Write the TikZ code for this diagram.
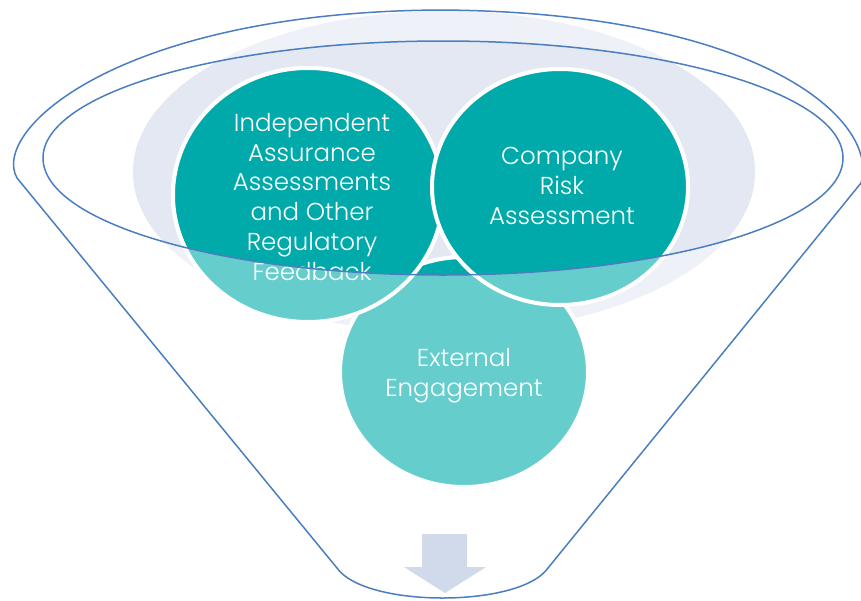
\documentclass[tikz,border=0pt]{standalone}
\usepackage{fontspec}
\setmainfont{Poppins}[UprightFont=* Light]
\usetikzlibrary{shapes.geometric}
\definecolor{dteal}{HTML}{00AAAA}
\definecolor{lteal}{HTML}{66CDCD}
\definecolor{funnel}{HTML}{4A7EBF}
\definecolor{grayout}{HTML}{EEF1F8}
\definecolor{grayin}{HTML}{E4E8F2}
\definecolor{arrowc}{HTML}{D0DAEA}
\tikzset{
  bubble/.style={draw=white, line width=4pt},
  lbl/.style={text=white, align=center, inner sep=0pt, font=\fontsize{24.5}{29.7}\selectfont},
  outline/.style={draw=funnel, line width=1.5pt},
}
\begin{document}
\begin{tikzpicture}[x=1pt,y=-1pt]
\useasboundingbox (0,0) rectangle (861,600);
% background gray ellipse
\fill[grayout] (444,172) ellipse [x radius=311, y radius=161];
\begin{scope}
  \clip (443,158) ellipse [x radius=400, y radius=117];
  \fill[grayin] (444,172) ellipse [x radius=311, y radius=161];
\end{scope}
% circles light
\path[bubble, fill=lteal] (464,372) ellipse [x radius=124, y radius=115];
\path[bubble, fill=lteal] (308,195) ellipse [x radius=135, y radius=127];
\path[bubble, fill=lteal] (560,187) ellipse [x radius=128, y radius=118];
% circles dark inside inner ellipse
\begin{scope}
  \clip (443,158) ellipse [x radius=400, y radius=117];
  \path[bubble, fill=dteal] (464,372) ellipse [x radius=124, y radius=115];
  \path[bubble, fill=dteal] (308,195) ellipse [x radius=135, y radius=127];
  \path[bubble, fill=dteal] (560,187) ellipse [x radius=128, y radius=118];
\end{scope}
% labels (anchor base = baseline of last line)
\node[lbl, anchor=base] (t1) at (312,280) {Independent\\Assurance\\Assessments\\and Other\\Regulatory\\Feedback};
\node[lbl, anchor=base] (t2) at (562,224) {Company\\Risk\\Assessment};
\node[lbl, anchor=base] (t3) at (464,396) {External\\Engagement};
% inner ellipse
\draw[outline] (443,158) ellipse [x radius=400, y radius=117];
% funnel outline
\coordinate (lc) at (17,178);
\coordinate (rc) at (861,183);
\coordinate (lb) at (337,568);
\coordinate (rb) at (548,568);
\draw[outline, line join=round] (lb) -- (lc)
  .. controls (-10,130) and (120,12) .. (440,10)
  .. controls (760,12) and (880,120) .. (rc)
  -- (rb) .. controls (520,608) and (365,608) .. cycle;
% arrow
\fill[arrowc] (422,534) -- (467,534) -- (467,567) -- (486,567) -- (445,593) -- (404,567) -- (422,567) -- cycle;
\end{tikzpicture}
\end{document}
